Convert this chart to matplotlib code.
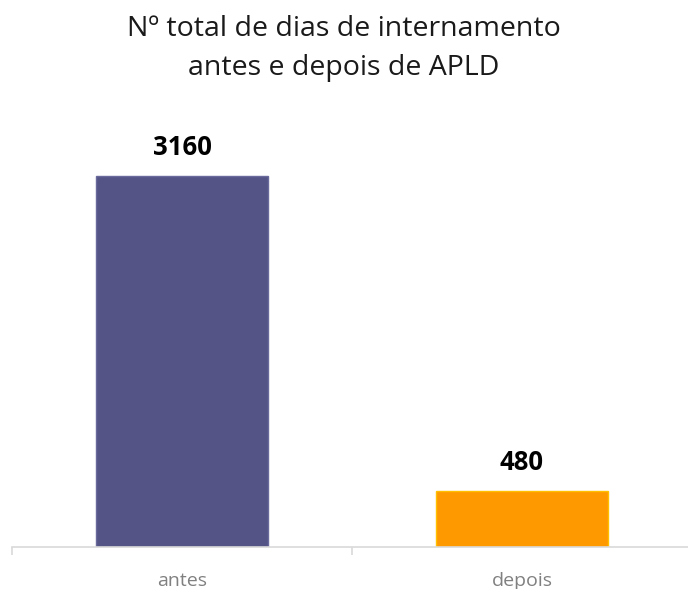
import matplotlib.pyplot as plt

# Data
categories = ['antes', 'depois']
values = [3160, 480]
bar_colors = ['#545486', '#FF9900']
edge_colors = ['#6a6a9c', '#FFC000']
title_lines = ['Nº total de dias de internamento', 'antes e depois de APLD']

plt.rcParams['font.family'] = ['Open Sans', 'DejaVu Sans']

fig = plt.figure(figsize=(6.88, 5.89), dpi=100)
# axes from x=12 to 692 px, baseline at y=547 px, top at y=120 px
ax = fig.add_axes([12 / 688, (589 - 547) / 589, 680 / 688, (547 - 120) / 589])

x = list(range(len(categories)))
ax.bar(x, values, width=0.503, color=bar_colors, edgecolor=edge_colors, linewidth=1, zorder=2)

ymax = values[0] * (547 - 120) / 371
ax.set_xlim(-0.5, 1.5)
ax.set_ylim(0, ymax)

# value labels above bars
for xi, v in zip(x, values):
    ax.annotate(str(v), (xi, v), textcoords='offset points', xytext=(0, 15),
                ha='center', va='baseline', fontsize=18.5, fontweight='bold', color='black')

# category labels, baseline near the bottom edge
for xi, c in zip(x, categories):
    ax.annotate(c, xy=(xi, 3), xycoords=('data', 'figure pixels'),
                ha='center', va='baseline', fontsize=14, color='#808080',
                annotation_clip=False)

# Axis styling
for s in ['top', 'right', 'left']:
    ax.spines[s].set_visible(False)
ax.spines['bottom'].set_color('#d9d9d9')
ax.spines['bottom'].set_linewidth(1.2)
ax.set_yticks([])
ax.set_xticks([-0.5, 0.5, 1.5])
ax.set_xticklabels([])
ax.tick_params(axis='x', which='major', length=6, color='#d9d9d9', width=1.2)

# Title, two lines
fig.text(0.5, 1 - 36 / 589, title_lines[0], ha='center', va='baseline',
         fontsize=20.5, color='#1a1a1a')
fig.text(0.5, 1 - 75 / 589, title_lines[1], ha='center', va='baseline',
         fontsize=20.5, color='#1a1a1a')

fig.savefig('out.png', dpi=100)
